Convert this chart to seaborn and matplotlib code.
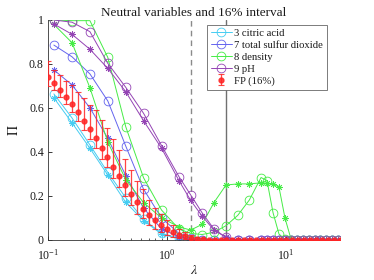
import numpy as np
import matplotlib
matplotlib.use('Agg')
import matplotlib.pyplot as plt
import seaborn as sns
from matplotlib.ticker import LogLocator, LogFormatterMathtext, NullFormatter

# lambda grid of the variable curves
lam = [0.112, 0.159, 0.225, 0.318, 0.45, 0.635, 0.9, 1.26, 1.58, 1.97,
       2.48, 3.13, 3.93, 4.92, 6.17, 6.92, 7.78, 8.73, 9.81, 11.0,
       12.4, 13.9, 15.6, 17.4, 19.3, 21.7, 24.4, 27.4]

cyan_o = [0.664, 0.555, 0.432, 0.307, 0.192, 0.094, 0.030, 0.008, 0.002, 0.0,
          0.0, 0.0, 0.0, 0.0, 0.0, 0.0, 0.0, 0.0, 0.0, 0.0,
          0.0, 0.0, 0.0, 0.0, 0.0, 0.0, 0.0, 0.0]
cyan_s = [0.646, 0.533, 0.417, 0.295, 0.171, 0.088, 0.027, 0.005, 0.001, 0.0,
          0.0, 0.0, 0.0, 0.0, 0.0, 0.0, 0.0, 0.0, 0.0, 0.0,
          0.0, 0.0, 0.0, 0.0, 0.0, 0.0, 0.0, 0.0]
blue_o = [0.886, 0.833, 0.755, 0.632, 0.427, 0.231, 0.100, 0.030, 0.008, 0.002,
          0.0, 0.0, 0.0, 0.0, 0.0, 0.0, 0.0, 0.0, 0.0, 0.0,
          0.0, 0.0, 0.0, 0.0, 0.0, 0.0, 0.0, 0.0]
blue_s = [0.773, 0.705, 0.601, 0.462, 0.293, 0.145, 0.050, 0.015, 0.004, 0.001,
          0.0, 0.0, 0.0, 0.0, 0.0, 0.0, 0.0, 0.0, 0.0, 0.0,
          0.0, 0.0, 0.0, 0.0, 0.0, 0.0, 0.0, 0.0]
green_o = [1.0, 0.997, 0.997, 0.83, 0.515, 0.283, 0.136, 0.05, 0.03, 0.025,
           0.035, 0.065, 0.112, 0.182, 0.284, 0.27, 0.124, 0.027, 0.003, 0.0,
           0.0, 0.0, 0.0, 0.0, 0.0, 0.0, 0.0, 0.0]
green_s = [0.98, 0.897, 0.692, 0.445, 0.275, 0.17, 0.10, 0.06, 0.045, 0.071,
           0.17, 0.25, 0.255, 0.255, 0.26, 0.258, 0.255, 0.24, 0.099, 0.005,
           0.0, 0.0, 0.0, 0.0, 0.0, 0.0, 0.0, 0.0]
purple_o = [1.0, 0.99, 0.947, 0.803, 0.694, 0.576, 0.429, 0.288, 0.205, 0.124,
            0.05, 0.012, 0.0, 0.0, 0.0, 0.0, 0.0, 0.0, 0.0, 0.0,
            0.0, 0.0, 0.0, 0.0, 0.0, 0.0, 0.0, 0.0]
purple_s = [0.982, 0.935, 0.867, 0.78, 0.674, 0.542, 0.417, 0.27, 0.18, 0.109,
            0.045, 0.012, 0.0, 0.0, 0.0, 0.0, 0.0, 0.0, 0.0, 0.0,
            0.0, 0.0, 0.0, 0.0, 0.0, 0.0, 0.0, 0.0]

# FP with 16% interval
fp_lam = [0.1, 0.112, 0.126, 0.141, 0.158, 0.178, 0.2, 0.224, 0.251, 0.282,
          0.316, 0.355, 0.398, 0.447, 0.501, 0.562, 0.631, 0.708, 0.794, 0.891,
          1.0, 1.12, 1.26, 1.41, 1.58, 1.78, 2.0, 2.24, 2.51, 2.82,
          3.16, 3.55, 3.98, 4.47, 5.01, 5.62, 6.31, 7.08, 7.94, 8.91,
          10.0, 11.2, 12.6, 14.1, 15.8, 17.8, 20.0, 22.4, 25.1, 28.2]
fp_val = [0.742, 0.712, 0.682, 0.652, 0.617, 0.583, 0.542, 0.505, 0.462, 0.417,
          0.376, 0.333, 0.290, 0.250, 0.210, 0.175, 0.140, 0.114, 0.090, 0.068,
          0.050, 0.036, 0.025, 0.016, 0.010, 0.006, 0.004, 0.002, 0.001, 0.001,
          0.001, 0.001, 0.001, 0.001, 0.001, 0.001, 0.001, 0.001, 0.001, 0.001,
          0.001, 0.001, 0.001, 0.001, 0.001, 0.001, 0.001, 0.001, 0.001, 0.001]
fp_hi = [0.814, 0.773, 0.75, 0.723, 0.705, 0.671, 0.647, 0.614, 0.59, 0.545,
         0.51, 0.46, 0.41, 0.37, 0.32, 0.27, 0.23, 0.18, 0.145, 0.12,
         0.09, 0.07, 0.05, 0.035, 0.025, 0.015, 0.01, 0.005, 0.003, 0.002,
         0.002, 0.002, 0.002, 0.002, 0.002, 0.002, 0.002, 0.002, 0.002, 0.002,
         0.002, 0.002, 0.002, 0.002, 0.002, 0.002, 0.002, 0.002, 0.002, 0.002]
fp_lo = [0.70, 0.68, 0.65, 0.62, 0.58, 0.54, 0.50, 0.46, 0.42, 0.37,
         0.33, 0.28, 0.24, 0.20, 0.16, 0.12, 0.10, 0.07, 0.05, 0.035,
         0.025, 0.015, 0.01, 0.005, 0.003, 0.002, 0.001, 0.0, 0.0, 0.0,
         0.0, 0.0, 0.0, 0.0, 0.0, 0.0, 0.0, 0.0, 0.0, 0.0,
         0.0, 0.0, 0.0, 0.0, 0.0, 0.0, 0.0, 0.0, 0.0, 0.0]

lam_dashed = 1.585
lam_solid = 3.16

# ── colours ──────────────────────────────────────────────────────────────
COL_CYAN = '#46CDF2'
COL_BLUE = '#6464EE'
COL_GREEN = '#46EC46'
COL_PURPLE = '#9444B4'
COL_FP = '#FF2424'
COL_TEXT = '#1A1A1A'
STAR = (8, 2, 0)

sns.set_theme(style='white')
plt.rcParams['font.family'] = ['Liberation Serif', 'DejaVu Serif']
plt.rcParams['mathtext.fontset'] = 'stix'
plt.rcParams['text.color'] = COL_TEXT
plt.rcParams['axes.labelcolor'] = COL_TEXT
plt.rcParams['xtick.color'] = COL_TEXT
plt.rcParams['ytick.color'] = COL_TEXT

fig = plt.figure(figsize=(3.74, 2.8), dpi=100)
ax = fig.add_axes([48 / 374, 40 / 280, 291.6 / 374, 220 / 280])

ax.axvline(lam_dashed, color='#8A8A8A', lw=1.0, ls=(0, (4, 3)), zorder=1)
ax.axvline(lam_solid, color='#707070', lw=1.0, zorder=1)

series = [
    (cyan_o, COL_CYAN, 'o', '3 citric acid'),
    (cyan_s, COL_CYAN, STAR, None),
    (blue_o, COL_BLUE, 'o', '7 total sulfur dioxide'),
    (blue_s, COL_BLUE, STAR, None),
    (green_o, COL_GREEN, 'o', '8 density'),
    (green_s, COL_GREEN, STAR, None),
    (purple_o, COL_PURPLE, 'o', '9 pH'),
    (purple_s, COL_PURPLE, STAR, None),
]
handles = []
for vals, col, mk, lab in series:
    kw = dict(label=lab) if lab else {}
    ms = 6.3 if mk == 'o' else 4.8
    sns.lineplot(x=lam, y=vals, ax=ax, color=col, marker=mk, markersize=ms,
                 markerfacecolor='none', markeredgecolor=col, markeredgewidth=0.6,
                 linewidth=0.7, estimator=None, sort=False, zorder=2, **kw)
    if lab:
        handles.append(ax.lines[-1])

fp_val_a = np.array(fp_val)
yerr = [fp_val_a - np.array(fp_lo), np.array(fp_hi) - fp_val_a]
eb = ax.errorbar(fp_lam, fp_val, yerr=yerr, fmt='o', color=COL_FP, ms=3.5,
                 mec=COL_FP, mfc=COL_FP, elinewidth=0.9, capsize=2, capthick=0.8,
                 alpha=0.85, zorder=3, label='FP (16%)')
handles.append(eb)

ax.set_xscale('log')
ax.set_xlim(0.1, 28.2)
ax.set_ylim(0, 1)
ax.set_yticks([0, 0.2, 0.4, 0.6, 0.8, 1])
ax.set_yticklabels(['0', '0.2', '0.4', '0.6', '0.8', '1'])
ax.xaxis.set_major_locator(LogLocator(base=10))
ax.xaxis.set_major_formatter(LogFormatterMathtext())
ax.xaxis.set_minor_locator(LogLocator(base=10, subs=np.arange(2, 10)))
ax.xaxis.set_minor_formatter(NullFormatter())
ax.tick_params(axis='both', which='major', direction='in', length=3, width=0.6,
               labelsize=8.5, bottom=True, left=True, top=False, right=False, pad=3)
ax.tick_params(axis='x', which='major', pad=6)
ax.tick_params(axis='x', which='minor', direction='in', length=1.8, width=0.5,
               bottom=True, top=False)
ax.spines[['top', 'right']].set_visible(False)
for s in ['left', 'bottom']:
    ax.spines[s].set_color('#333333')
    ax.spines[s].set_linewidth(0.6)

ax.set_xlabel(r'$\lambda$', fontsize=10, labelpad=1)
ax.set_ylabel(r'$\Pi$', fontsize=10, labelpad=6)
ax.set_title('Neutral variables and 16% interval', fontsize=9.5, pad=3)

leg = ax.legend(handles=handles, loc='upper left',
                bbox_to_anchor=(207 / 374, 1 - 25 / 280), bbox_transform=fig.transFigure,
                fontsize=7.7, frameon=True, fancybox=False, framealpha=1,
                edgecolor='#666666', borderpad=0.35, labelspacing=0.22,
                handlelength=2.0, handletextpad=0.2, borderaxespad=0)
leg.get_frame().set_linewidth(0.6)

fig.savefig('out.png', dpi=100)
